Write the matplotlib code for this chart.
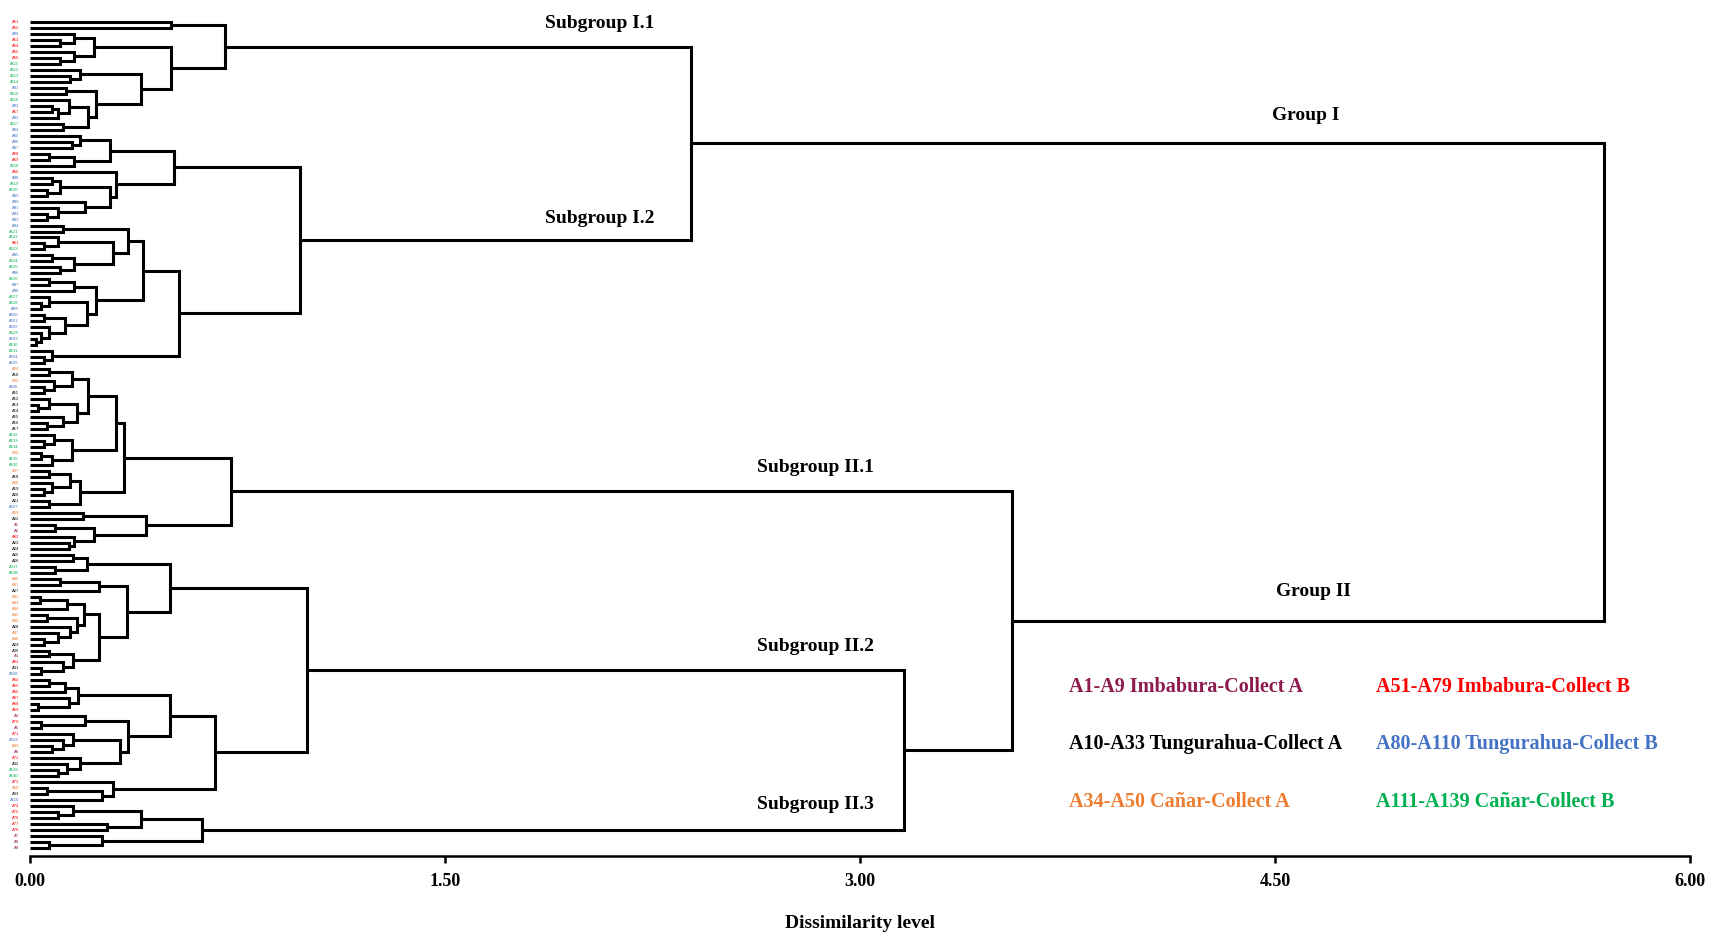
import matplotlib.pyplot as plt

plt.rcParams['font.family'] = ['Liberation Serif', 'DejaVu Serif']
plt.rcParams['font.weight'] = 'bold'

# clusters are [height, upper branch, lower branch]; a 0 is one accession
sub_I1 = [0.705, [0.51, 0, 0],
          [0.51, [0.23, [0.16, 0, [0.11, 0, 0]], [0.16, 0, [0.11, 0, 0]]],
           [0.40, [0.18, 0, [0.145, 0, 0]],
            [0.24, [0.13, 0, 0], [0.21, [0.14, 0, [0.10, [0.08, 0, 0], 0]], [0.12, 0, 0]]]]]]

sub_I2 = [0.975,
          [0.52,
           [0.29, [0.18, 0, [0.15, 0, 0]], [0.16, [0.07, 0, 0], 0]],
           [0.31, 0, [0.29, [0.11, [0.08, 0, 0], [0.06, 0, 0]], [0.20, 0, [0.10, 0, [0.06, 0, 0]]]]]],
          [0.54,
           [0.41,
            [0.355, [0.12, 0, 0], [0.30, [0.10, 0, [0.05, 0, 0]], [0.16, [0.08, 0, 0], [0.11, 0, 0]]]],
            [0.24, [0.16, [0.07, 0, 0], 0],
             [0.205, [0.07, 0, [0.04, 0, 0]],
              [0.125, [0.05, 0, 0], [0.07, 0, [0.04, 0, [0.02, 0, 0]]]]]]],
           [0.08, 0, [0.05, 0, 0]]]]

sub_II1 = [0.728,
           [0.34,
            [0.31,
             [0.21, [0.15, [0.07, 0, 0], [0.085, 0, [0.05, 0, 0]]],
              [0.17, [0.07, 0, [0.03, 0, 0]], [0.12, 0, [0.06, 0, 0]]]],
             [0.15, [0.085, 0, [0.05, 0, 0]], [0.08, [0.04, 0, 0], 0]]],
            [0.18, [0.145, [0.07, 0, 0], [0.08, 0, [0.05, 0, 0]]], [0.07, 0, 0]]],
           [0.42, [0.19, 0, 0], [0.23, [0.09, 0, 0], [0.16, 0, [0.14, 0, 0]]]]]

sub_II2 = [1.0,
           [0.505,
            [0.205, [0.155, 0, 0], [0.09, 0, 0]],
            [0.35,
             [0.25, [0.11, 0, 0], 0],
             [0.25,
              [0.195, [0.135, [0.036, 0, 0], 0],
               [0.17, [0.06, 0, 0], [0.145, 0, [0.10, 0, [0.05, 0, 0]]]]],
              [0.155, [0.07, 0, 0], [0.12, 0, [0.04, 0, 0]]]]]],
           [0.67,
            [0.505,
             [0.175, [0.125, [0.07, 0, 0], 0], [0.14, 0, [0.03, 0, 0]]],
             [0.355, [0.2, 0, [0.04, 0, 0]],
              [0.325, [0.155, 0, [0.12, 0, [0.08, 0, 0]]], [0.18, 0, [0.135, 0, [0.10, 0, 0]]]]]],
            [0.30, 0, [0.26, [0.06, 0, 0], 0]]]]

sub_II3 = [0.62, [0.40, [0.155, 0, [0.10, 0, 0]], [0.28, 0, 0]], [0.26, 0, [0.07, 0, 0]]]

sub_II23 = [3.16, sub_II2, sub_II3]
group_I = [2.39, sub_I1, sub_I2]
group_II = [3.55, sub_II1, sub_II23]
root = [5.69, group_I, group_II]

# origin of each accession, top to bottom
codes_I1 = "RRBRRRRGGGGBGGBRBGB"
codes_I2 = "BBBRRGRBGGBBBBB" + "BGGRGBGGBGBBGGBBBBGBGGBB"
codes_II1 = "OKOBKKKKKKKGGGOGGOKOKKKBOKPPRKK"
codes_II2 = "KKGGOOKOOOOOKOOKKPRKB" + "RRRRRRPRPRBOPRKGGROKB"
codes_II3 = "RRRRRPPP"

code_colors = {'P': '#8E1B4F', 'K': '#000000', 'O': '#ED7D31',
               'R': '#FF0000', 'B': '#4472C4', 'G': '#00B050'}
first_number = {'P': 1, 'K': 10, 'O': 34, 'R': 51, 'B': 80, 'G': 111}

legend_texts = ['A1-A9 Imbabura-Collect A', 'A51-A79 Imbabura-Collect B',
                'A10-A33 Tungurahua-Collect A', 'A80-A110 Tungurahua-Collect B',
                'A34-A50 Cañar-Collect A', 'A111-A139 Cañar-Collect B']
legend_codes = ['P', 'R', 'K', 'B', 'O', 'G']

ticks = [0.0, 1.5, 3.0, 4.5, 6.0]

fig = plt.figure(figsize=(17.11, 9.32), dpi=100)
ax = fig.add_axes([30 / 1711, 76 / 932, 1660 / 1711, 856 / 932])

pos = {}
count = [0]


def draw(node):
    if not isinstance(node, list):
        y = count[0]
        count[0] += 1
        return 0.0, y
    h = node[0]
    pts = [draw(k) for k in node[1:]]
    (x1, y1), (x2, y2) = pts[0], pts[-1]
    ax.plot([x1, h, h, x2], [y1, y1, y2, y2], color='black', lw=2.2,
            solid_joinstyle='miter', solid_capstyle='butt')
    ym = (y1 + y2) / 2
    pos[id(node)] = (h, ym)
    return h, ym


draw(root)

# accession labels on the left
codes = codes_I1 + codes_I2 + codes_II1 + codes_II2 + codes_II3
used = dict(first_number)
for i, c in enumerate(codes):
    ax.text(-0.04, i, 'A%d' % used[c], color=code_colors[c], fontsize=3,
            fontweight='normal', family='Liberation Sans', ha='right', va='center')
    used[c] += 1

group_labels = [('Subgroup I.1', sub_I1, 2.06, 17), ('Subgroup I.2', sub_I2, 2.06, 16),
                ('Group I', group_I, 4.61, 20),
                ('Subgroup II.1', sub_II1, 2.84, 17), ('Group II', group_II, 4.64, 21),
                ('Subgroup II.2', sub_II2, 2.84, 17), ('Subgroup II.3', sub_II3, 2.84, 18)]
for text, node, x, off in group_labels:
    ax.annotate(text, (x, pos[id(node)][1]), xytext=(0, off), textcoords='offset points',
                ha='center', va='center', fontsize=14)

legend_x = [0.626, 0.811]
legend_y = [0.197, 0.131, 0.063]
for k, (text, c) in enumerate(zip(legend_texts, legend_codes)):
    ax.text(legend_x[k % 2], legend_y[k // 2], text, color=code_colors[c], fontsize=14.5,
            transform=ax.transAxes, ha='left', va='center')

ax.set_xlim(0, 6)
ax.set_ylim(139.33, -3.675)
ax.set_xticks(ticks, labels=['%.2f' % t for t in ticks])
ax.set_yticks([])
ax.tick_params(axis='x', length=5, width=1.8, labelsize=13, pad=7)
for side in ['left', 'right', 'top']:
    ax.spines[side].set_visible(False)
ax.spines['bottom'].set_linewidth(1.8)
ax.set_xlabel('Dissimilarity level', fontsize=14, fontweight='bold', labelpad=18)

fig.savefig('out.png', dpi=100)
